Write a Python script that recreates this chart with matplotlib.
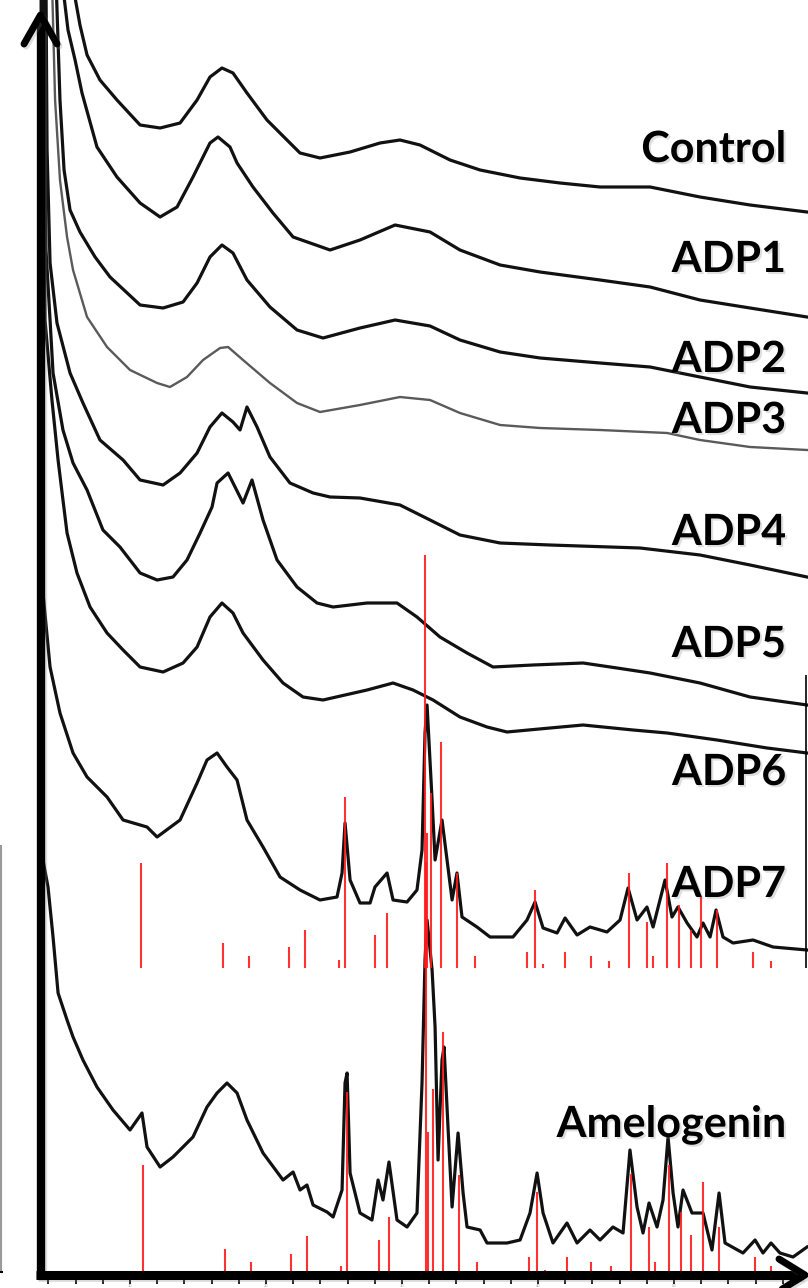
import numpy as np
import matplotlib
matplotlib.use("Agg")
import matplotlib.pyplot as plt
from matplotlib.lines import Line2D
import matplotlib.patheffects as pe

# ---------------- data (2-theta in degrees, intensity in stacked a.u.) ----------------
ctrl_t = [5.66,6.32,6.84,7.79,9.04,10.74,12.21,13.68,14.93,15.88,16.76,17.57,18.60,20.07,21.54,22.50,23.97,26.18,28.38,29.85,31.32,33.53,35.74,38.68,41.62,44.56,48.24,51.91,55.59,59.78]
ctrl_i = [1313,1263,1233,1208,1188,1163,1160,1165,1188,1211,1220,1215,1195,1168,1148,1135,1130,1136,1145,1148,1143,1128,1118,1110,1105,1101,1101,1091,1083,1076]

adp1_t = [5.00,5.44,5.96,6.47,7.57,9.04,10.74,12.21,13.46,14.63,15.88,16.47,17.35,17.87,19.04,20.51,21.99,24.71,26.91,29.49,32.06,34.26,37.21,40.15,44.56,48.24,51.91,55.59,59.78]
adp1_i = [1308,1258,1228,1195,1141,1111,1085,1071,1081,1111,1145,1151,1141,1125,1101,1075,1051,1038,1048,1063,1056,1038,1023,1016,1008,1001,988,980,971]

adp2_t = [4.56,4.85,5.15,5.59,6.32,7.43,8.53,10.74,12.43,13.90,14.93,15.88,16.76,17.57,18.60,20.29,22.28,24.19,26.91,29.49,32.06,34.26,37.21,40.15,44.56,48.24,51.91,55.59,59.78]
adp2_i = [1308,1188,1118,1078,1056,1031,1011,983,980,986,1005,1031,1043,1035,1008,981,958,950,960,968,962,948,936,930,925,921,911,901,895]

adp3_t = [4.26,4.49,4.85,5.37,5.81,6.84,8.31,10.0,11.99,12.94,14.19,15.37,16.62,17.21,18.31,20.29,22.28,23.97,26.91,29.85,32.06,34.26,37.21,40.15,44.56,49.49,51.91,55.59,59.78]
adp3_i = [1308,1188,1108,1051,1018,971,941,918,905,901,911,928,940,941,928,905,885,876,883,891,888,875,863,860,858,855,848,841,838]

adp4_t = [3.82,3.90,4.12,4.63,5.59,6.54,7.79,9.49,10.74,12.43,13.68,14.93,15.88,16.76,17.57,18.09,18.60,19.34,20.29,21.76,23.46,24.71,26.91,29.85,32.06,34.26,37.21,40.88,47.50,51.91,55.59,59.78]
adp4_i = [1308,1138,1025,965,915,885,848,828,808,803,815,835,861,875,866,858,881,861,831,805,795,791,790,783,768,753,745,743,740,733,723,711]

adp5_t = [3.68,3.82,4.12,4.34,5.07,5.81,6.84,8.01,9.26,10.74,11.99,13.16,14.19,15.15,16.03,16.40,17.21,18.31,18.97,19.78,20.81,22.28,23.75,24.93,27.43,29.63,31.10,32.79,34.78,36.69,39.63,43.31,45.81,48.24,51.91,55.59,59.78]
adp5_i = [1308,1038,968,915,858,825,798,758,741,715,708,711,728,755,781,805,815,785,808,768,728,701,685,681,685,685,671,651,635,621,623,625,620,615,605,591,583]

adp6_t = [3.60,3.68,3.75,4.26,4.71,5.07,5.37,6.10,7.06,8.31,9.49,10.74,12.43,13.90,14.93,15.88,16.76,17.57,18.31,19.78,21.25,22.72,24.19,27.43,29.34,30.81,32.28,34.26,36.25,37.72,40.88,43.31,46.99,49.49,53.16,56.84,59.78]
adp6_i = [1308,1088,968,888,828,788,755,715,681,655,638,621,616,625,641,671,685,675,655,628,605,591,588,598,605,598,588,571,561,556,560,563,558,555,548,540,535]

adp7_t = [3.46,3.53,3.60,4.12,4.85,5.81,6.84,8.31,9.49,11.25,11.99,13.68,14.93,15.66,16.40,17.13,17.87,18.60,19.78,21.03,22.50,23.97,25.22,25.59,25.81,26.18,26.91,27.65,28.01,28.90,29.34,30.37,31.10,31.47,31.69,31.84,32.21,32.43,32.94,33.31,33.68,34.04,34.41,35.51,36.47,38.16,39.19,39.78,40.37,41.40,41.99,42.87,43.82,45.07,46.03,46.62,47.28,48.01,48.46,49.34,49.85,50.29,50.96,51.69,52.13,52.65,53.09,53.60,54.34,55.81,57.28,59.78]
adp7_i = [1308,888,695,621,575,535,511,491,468,461,451,468,505,528,535,521,508,468,441,411,398,388,391,415,465,408,385,385,401,415,388,386,398,438,555,583,488,428,468,428,388,415,371,361,351,351,368,386,360,355,370,353,361,356,368,400,368,381,361,408,371,381,365,351,365,351,378,351,345,348,341,338]

amel_t = [3.46,3.60,3.97,4.34,4.71,5.37,5.81,6.54,7.57,8.75,10.0,10.88,11.25,12.21,13.16,14.63,15.66,16.40,17.13,17.87,18.60,19.78,21.25,21.99,22.50,23.01,23.46,24.49,24.93,25.59,25.81,25.96,26.18,26.91,27.79,28.24,28.60,29.04,29.63,30.37,31.10,31.47,31.69,31.84,32.21,32.43,32.65,32.94,33.09,33.38,33.68,34.12,34.49,34.78,35.74,36.25,37.72,38.68,39.41,39.93,40.37,41.10,42.13,42.87,43.82,44.56,45.51,46.25,46.76,47.28,47.72,48.16,48.75,49.19,49.56,49.93,50.29,50.66,51.32,52.13,52.79,53.31,53.75,55.07,55.96,56.54,57.13,57.79,58.75,59.78]
amel_i = [688,428,401,351,295,268,251,228,201,178,158,175,141,121,131,151,181,195,205,195,168,135,108,116,98,103,83,76,71,98,205,215,115,75,68,108,88,126,68,61,75,205,328,368,318,261,128,228,241,161,81,155,95,61,58,45,45,48,75,115,75,45,65,45,58,48,61,55,138,81,55,85,61,88,151,95,61,98,75,75,38,95,45,35,48,35,45,35,31,41]

# reference stick patterns (2-theta, relative height)
ref7_t = [10.81,16.84,18.75,21.69,22.87,25.37,25.81,28.01,28.90,31.69,31.84,32.13,32.87,34.04,35.37,39.19,39.78,40.37,41.99,43.90,45.22,46.69,48.01,48.46,49.49,50.37,51.25,51.99,53.16,55.81,57.13]
ref7_h = [105,25,12,21,38,8,171,33,55,413,135,175,226,95,12,16,78,4,16,12,7,95,46,12,105,63,38,71,58,16,7]
refA_t = [10.96,16.99,18.90,21.84,23.01,25.51,25.96,28.31,29.04,31.76,31.91,32.28,33.01,34.19,35.51,39.34,39.93,40.51,42.13,43.90,45.37,46.84,48.16,48.60,49.63,50.51,51.25,52.13,53.31,55.96,57.13]
refA_h = [107,23,10,18,36,6,180,32,55,410,140,183,240,97,10,15,80,2,15,10,6,98,45,10,107,60,37,90,45,15,6]
ref7_base = 320
refA_base = 16

labels = ["Control", "ADP1", "ADP2", "ADP3", "ADP4", "ADP5", "ADP6", "ADP7", "Amelogenin"]
label_base_px = [162, 272, 372, 433, 545, 657, 785, 897, 1137]

tick_pos = list(range(4, 59, 2))
tick_lab = [str(t) if t % 10 == 0 else "" for t in tick_pos]

# ---------------- figure ----------------
W, H = 808, 1288
fig = plt.figure(figsize=(W / 100, H / 100), dpi=100)
fig.patch.set_facecolor("white")
ax = fig.add_axes([0, 9 / H, 1, 1 - 9 / H])
ax.set_xlim(0.44, 59.85)
ax.set_ylim(9, 1288)
for s in ax.spines.values():
    s.set_visible(False)
ax.set_yticks([])
ax.set_xticks(tick_pos)
ax.set_xticklabels(tick_lab)
ax.tick_params(axis="x", direction="out", length=3.5, width=1.2, color="black",
               labelsize=2.6, labelcolor="#999999", pad=0.2)

series = [(ctrl_t, ctrl_i), (adp1_t, adp1_i), (adp2_t, adp2_i), (adp3_t, adp3_i),
          (adp4_t, adp4_i), (adp5_t, adp5_i), (adp6_t, adp6_i), (adp7_t, adp7_i),
          (amel_t, amel_i)]
for k, (t, i) in enumerate(series):
    if k == 3:
        ax.plot(t, i, color="#5a5a5a", lw=1.7, zorder=2, solid_joinstyle="round")
    else:
        ax.plot(t, i, color="#111111", lw=2.3, zorder=2, solid_joinstyle="round")

ax.vlines(ref7_t, ref7_base, np.array(ref7_h) + ref7_base, color="#ff1a1a", lw=1.5, alpha=0.9, zorder=3)
ax.vlines(refA_t, refA_base, np.array(refA_h) + refA_base, color="#ff1a1a", lw=1.5, alpha=0.9, zorder=3)

# ---------------- decorations (arrows, frame bits) ----------------
def P(x, y):
    return x / W, 1 - y / H

shadow = [pe.SimpleLineShadow(offset=(1.5, -1.5), alpha=0.25, shadow_color="gray"), pe.Normal()]

def fline(xs, ys, lw, color="black", fx=None, cap="butt"):
    pts = [P(x, y) for x, y in zip(xs, ys)]
    ln = Line2D([p[0] for p in pts], [p[1] for p in pts], transform=fig.transFigure,
                lw=lw, color=color, solid_capstyle=cap, solid_joinstyle="round", zorder=10)
    if fx:
        ln.set_path_effects(fx)
    fig.add_artist(ln)

# y axis arrow
fline([40.5, 40.5], [1279, 16], 6.0, fx=shadow)
fline([24, 40.5, 57], [44, 15, 44], 5.0, fx=shadow, cap="round")
# x axis arrow
fline([36, 802], [1274.5, 1274.5], 6.5, fx=shadow)
fline([779, 805, 779], [1259, 1275, 1291], 5.0, fx=shadow, cap="round")
# thin frame remnants
fline([806, 806], [675, 968], 1.2)
fline([1.2, 1.2], [845, 1272], 1.5, color="#9a9a9a")
fline([0, 3], [1272, 1272], 1.5)

# ---------------- labels ----------------
txt_fx = [pe.withSimplePatchShadow(offset=(1.5, -1.5), alpha=0.25, shadow_rgbFace="gray")]
for lab, yb in zip(labels, label_base_px):
    fig.text(786 / W, 1 - yb / H, lab, ha="right", va="baseline",
             fontsize=31, fontweight="bold", family=["Lato", "DejaVu Sans"],
             color="black", path_effects=txt_fx, zorder=11)

fig.savefig("out.png", dpi=100, facecolor="white")
